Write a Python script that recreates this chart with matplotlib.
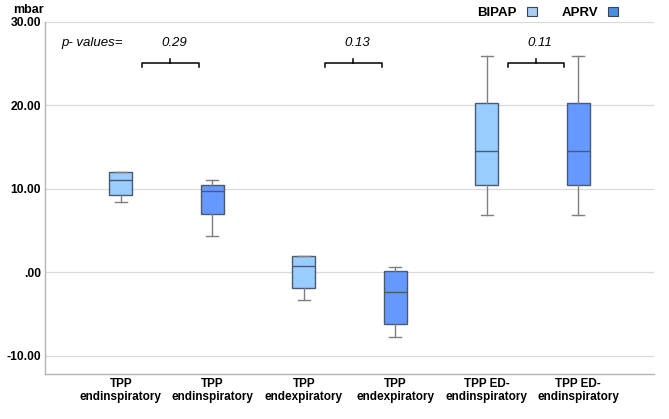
import matplotlib
matplotlib.use("Agg")
import matplotlib.pyplot as plt
from matplotlib.patches import Patch

plt.rcParams["font.family"] = ["Liberation Sans", "DejaVu Sans"]

# data (mbar)
categories = ["TPP\nendinspiratory", "TPP\nendinspiratory", "TPP\nendexpiratory",
              "TPP\nendexpiratory", "TPP ED-\nendinspiratory", "TPP ED-\nendinspiratory"]
groups = ["BIPAP", "APRV", "BIPAP", "APRV", "BIPAP", "APRV"]
whislo = [8.4, 4.3, -3.35, -7.8, 6.85, 6.85]
q1 = [9.3, 7.0, -1.85, -6.2, 10.5, 10.5]
med = [11.1, 9.7, 0.75, -2.4, 14.5, 14.5]
q3 = [12.0, 10.4, 1.95, 0.1, 20.3, 20.3]
whishi = [12.0, 11.0, 2.0, 0.65, 25.9, 25.9]
p_values = ["0.29", "0.13", "0.11"]
yticks = [-10, 0, 10, 20, 30]
ytick_labels = ["-10.00", ".00", "10.00", "20.00", "30.00"]

BOX_COLORS = {"BIPAP": "#99ccff", "APRV": "#6699ff"}
LEG_COLORS = {"BIPAP": "#a8cdf0", "APRV": "#4a8fe0"}
EDGE = "#4b5a6e"
WHISK = "#7f7f7f"
GRID = "#d9d9d9"

fig = plt.figure(figsize=(6.69, 4.19), dpi=100)
ax = fig.add_axes([0.0673, 0.1074, 0.9103, 0.8401])

stats = [dict(whislo=a, q1=b, med=c, q3=d, whishi=e)
         for a, b, c, d, e in zip(whislo, q1, med, q3, whishi)]
pos = list(range(len(stats)))
bp = ax.bxp(stats, positions=pos, widths=0.25, patch_artist=True, showfliers=False,
            boxprops=dict(edgecolor=EDGE, linewidth=1.0),
            medianprops=dict(color=EDGE, linewidth=1.0),
            whiskerprops=dict(color=WHISK, linewidth=1.0),
            capprops=dict(color=WHISK, linewidth=1.0), capwidths=0.13)
for box, g in zip(bp["boxes"], groups):
    box.set_facecolor(BOX_COLORS[g])
    box.set_zorder(3)
for ln in bp["medians"] + bp["whiskers"] + bp["caps"]:
    ln.set_zorder(3)

ax.set_xlim(-0.83, 5.83)
ax.set_ylim(-12.2, 30.0)
ax.set_yticks(yticks)
ax.set_yticklabels(ytick_labels, fontsize=8.7, fontweight="bold")
ax.set_xticks(pos)
ax.set_xticklabels(categories, fontsize=8.5, fontweight="bold", linespacing=1.1)
ax.tick_params(length=0, pad=3)
ax.grid(axis="y", color=GRID, linewidth=0.9, zorder=0)
ax.set_axisbelow(True)
for s in ["top", "right"]:
    ax.spines[s].set_visible(False)
for s in ["left", "bottom"]:
    ax.spines[s].set_color("#b5b5b5")
    ax.spines[s].set_linewidth(1.0)
    ax.spines[s].set_clip_on(False)

ax.text(-0.0525, 1.026, "mbar", transform=ax.transAxes, fontsize=9, fontweight="bold",
        ha="left", va="baseline")

# brackets with p-values
br_y, br_drop, br_tick = 25.1, 0.45, 0.5
for i, p in enumerate(p_values):
    x0 = pos[2 * i] + 0.23
    x1 = pos[2 * i] + 0.85
    xc = (x0 + x1) / 2
    ax.plot([x0, x0, x1, x1], [br_y - br_drop, br_y, br_y, br_y - br_drop],
            color="black", lw=1.1, zorder=4)
    ax.plot([xc, xc], [br_y, br_y + br_tick], color="black", lw=1.1, zorder=4)
    ax.text(xc + 0.04, 27.5, p, fontsize=9.5, style="italic", ha="center", va="center")
ax.text(-0.31, 27.5, "p- values=", fontsize=9.5, style="italic", ha="center", va="center")

handles = [Patch(facecolor=LEG_COLORS[g], edgecolor="#3a4656", linewidth=0.8, label=g)
           for g in ["BIPAP", "APRV"]]
leg = fig.legend(handles=handles, loc="center right", bbox_to_anchor=(618 / 669, 0.969),
                 ncol=2, frameon=False, markerfirst=False, handlelength=0.75,
                 handleheight=0.75, handletextpad=0.75, columnspacing=1.9, borderpad=0,
                 borderaxespad=0, prop=dict(size=9.5, weight="bold"))

fig.savefig("out.png", dpi=100, facecolor="white")
